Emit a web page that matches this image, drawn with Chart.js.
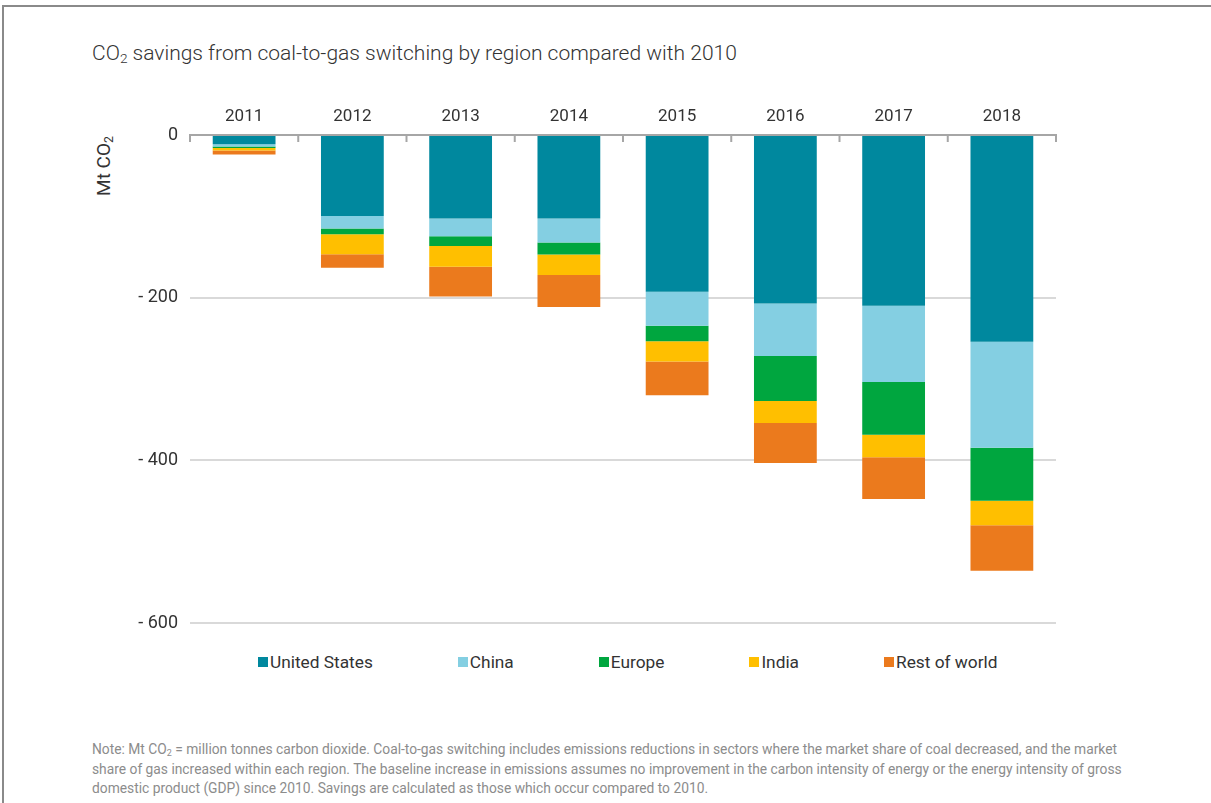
<!DOCTYPE html>
<html>
<head>
<meta charset="utf-8">
<title>CO2 savings from coal-to-gas switching</title>
<script src="https://cdn.jsdelivr.net/npm/chart.js@4.4.0/dist/chart.umd.min.js"></script>
<style>
  body { margin: 0; width: 1211px; height: 803px; position: relative; background: #fff; overflow: hidden;
         font-family: Roboto, "Noto Sans", sans-serif; }
  #frame { position: absolute; left: 2px; top: 5px; width: 1220px; height: 810px;
           border-top: 2px solid #8a8a8a; border-left: 2px solid #8a8a8a; }
  #title { position: absolute; left: 92px; top: 41px; font-size: 21px; color: #333; font-weight: 300; white-space: nowrap; }
  #title sub, #unit sub, #note sub { font-size: 65%; vertical-align: -0.25em; line-height: 0; }
  #unit { position: absolute; left: 103px; top: 166px; transform: translate(-50%, -50%) rotate(-90deg);
          font-size: 19px; color: #333; white-space: nowrap; }
  #chartBox { position: absolute; left: 0; top: 90px; width: 1211px; height: 556px; }
  #legend { position: absolute; left: 258px; top: 652px; display: flex; font-size: 17.3px; color: #333; }
  #legend .item { display: flex; align-items: center; margin-right: 85px; white-space: nowrap; }
  #legend .box { width: 10px; height: 10px; margin-right: 2px; }
  #note { position: absolute; left: 92px; top: 740px; font-size: 13.8px; line-height: 19.5px; color: #8c8c8c; white-space: nowrap; }
</style>
</head>
<body>
<div id="frame"></div>
<div id="title">CO<sub>2</sub> savings from coal-to-gas switching by region compared with 2010</div>
<div id="unit">Mt CO<sub>2</sub></div>
<div id="chartBox"><canvas id="myChart"></canvas></div>
<div id="legend"></div>
<div id="note">Note: Mt CO<sub>2</sub> = million tonnes carbon dioxide. Coal-to-gas switching includes emissions reductions in sectors where the market share of coal decreased, and the market<br>share of gas increased within each region. The baseline increase in emissions assumes no improvement in the carbon intensity of energy or the energy intensity of gross<br>domestic product (GDP) since 2010. Savings are calculated as those which occur compared to 2010.</div>
<script>
// values, Mt CO2 (savings shown as negatives)
var years = ['2011', '2012', '2013', '2014', '2015', '2016', '2017', '2018'];
var unitedStates = [-11.5, -99.5, -102.5, -102.5, -192.5, -207, -210, -254];
var china = [-2.5, -15.5, -22, -29.5, -42, -64.5, -93.5, -130.5];
var europe = [-2, -7, -12, -15, -19, -55.5, -65, -65];
var india = [-3, -24.5, -25.5, -25, -25, -27, -27.5, -30];
var restOfWorld = [-5, -16.5, -36.5, -39.5, -41.5, -49, -51.5, -56];
var yTicks = [0, -200, -400, -600];

var regions = ['United States', 'China', 'Europe', 'India', 'Rest of world'];
var colours = ['#00889e', '#84cfe2', '#00a63f', '#ffbf00', '#eb7a1d'];
var series = [unitedStates, china, europe, india, restOfWorld];

// small tick marks hanging down from the top axis between the years
var xTickMarks = {
  id: 'xTickMarks',
  afterDraw: function(chart) {
    var xs = chart.scales.x;
    var ctx = chart.ctx;
    var top = chart.chartArea.top;
    ctx.save();
    ctx.strokeStyle = '#a6a6a6';
    ctx.lineWidth = 2;
    for (var i = 0; i <= years.length; i++) {
      var x = xs.left + (xs.right - xs.left) * i / years.length;
      ctx.beginPath();
      ctx.moveTo(x, top);
      ctx.lineTo(x, top + 7);
      ctx.stroke();
    }
    ctx.restore();
  }
};

var myChart = new Chart(
  document.getElementById('myChart'),
  {
    type: 'bar',
    data: {
      labels: years,
      datasets: regions.map(function(name, i) {
        return {
          label: name,
          data: series[i],
          backgroundColor: colours[i],
          borderWidth: 0,
          categoryPercentage: 1,
          barPercentage: 0.58
        };
      })
    },
    options: {
      responsive: true,
      maintainAspectRatio: false,
      animation: false,
      layout: { padding: { left: 0, right: 155, top: 0, bottom: 7 } },
      plugins: {
        legend: { display: false },
        tooltip: { enabled: false }
      },
      scales: {
        x: {
          position: 'top',
          stacked: true,
          grid: { display: false },
          border: { display: true, color: '#a6a6a6', width: 2 },
          ticks: { color: '#333', padding: 0, font: { family: 'Roboto', size: 17 } },
          afterFit: function(scale) { scale.height = 45; }
        },
        y: {
          stacked: true,
          min: -600,
          max: 0,
          afterBuildTicks: function(scale) {
            scale.ticks = yTicks.map(function(v) { return { value: v }; });
          },
          grid: {
            drawTicks: false,
            lineWidth: 2,
            color: function(c) { return c.tick && c.tick.value === 0 ? '#a6a6a6' : '#d9d9d9'; }
          },
          border: { display: false },
          ticks: {
            color: '#333',
            padding: 12,
            font: { family: 'Roboto', size: 18 },
            callback: function(v) { return v === 0 ? '0' : '- ' + Math.abs(v); }
          },
          afterFit: function(scale) { scale.width = 190; }
        }
      }
    },
    plugins: [xTickMarks]
  }
);

// legend drawn as html from the same names / colours
var legend = document.getElementById('legend');
regions.forEach(function(name, i) {
  var item = document.createElement('div');
  item.className = 'item';
  item.innerHTML = '<span class="box" style="background:' + colours[i] + '"></span>' + name;
  legend.appendChild(item);
});
</script>
</body>
</html>
